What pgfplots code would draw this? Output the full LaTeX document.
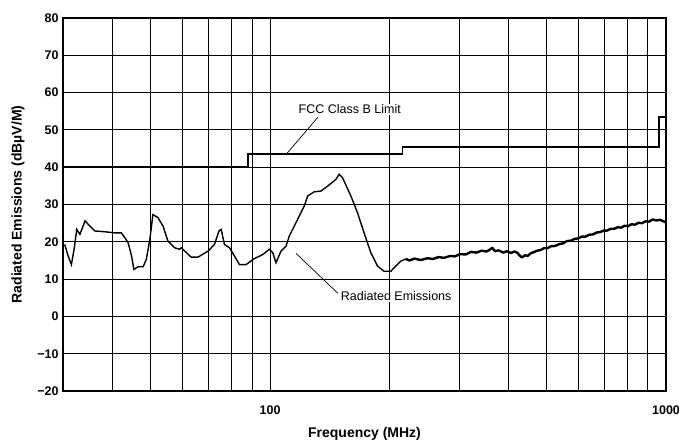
\documentclass[border=0pt]{standalone}
\usepackage{pgfplots}
\pgfplotsset{compat=1.18}
\usepackage{fontspec}
\setmainfont{Liberation Sans}
\begin{document}
\begin{tikzpicture}
\begin{axis}[
  name=ax,
  scale only axis,
  width=603pt, height=373pt,
  xmode=log,
  xmin=30, xmax=1000,
  ymin=-20, ymax=80,
  ytick={-20,-10,0,10,20,30,40,50,60,70,80},
  yticklabels={−20,−10,0,10,20,30,40,50,60,70,80},
  xtick={100,1000},
  xticklabels={100,1000},
  minor xtick={40,50,60,70,80,90,200,300,400,500,600,700,800,900},
  major tick length=0pt, minor tick length=0pt,
  xmajorgrids, xminorgrids, ymajorgrids,
  grid style={black, line width=0.8pt},
  minor grid style={black, line width=0.8pt},
  axis line style={black, line width=1.2pt},
  /pgf/number format/assume math mode=true,
  tick label style={font=\fontsize{12.5}{14}\selectfont\bfseries},
  xticklabel style={yshift=-11pt},
  yticklabel style={xshift=-1pt},
  xlabel={Frequency (MHz)},
  ylabel={Radiated Emissions (dBµV/M)},
  label style={font=\fontsize{14}{16}\selectfont\bfseries},
  xlabel style={at={(axis description cs:0.5,0)}, anchor=center, yshift=-43pt},
  ylabel style={at={(axis description cs:0,0.5)}, anchor=center, yshift=45pt},
  clip=false,
]
% FCC Class B limit
\addplot[black, line width=1.9pt, const plot] coordinates {
  (30,40) (88,43.5) (216,45.5) (960,53.5) (1000,53.5)
};
% Radiated emissions, low band
\addplot[black, line width=1.4pt] coordinates {
  (30.3,19.3) (30.9,16.2) (31.5,13.9) (32.0,18.0) (32.5,23.3) (33.1,22.0)
  (34.1,25.6) (35.1,24.2) (36.1,22.9) (38.2,22.7) (40.5,22.4) (42.1,22.4)
  (43.0,21.1) (43.8,19.8) (44.7,16.2) (45.3,12.6) (46.4,13.3) (47.8,13.3)
  (48.7,15.3) (49.7,20.6) (50.6,27.3) (52.1,26.5) (53.7,24.2) (55.2,20.2)
  (57.4,18.4) (59.1,18.0) (59.7,18.4) (63.2,15.9) (65.8,15.9) (69.7,17.5)
  (72.4,19.3) (74.3,22.9) (75.3,23.3) (76.7,19.3) (79.0,18.4) (81.3,16.2)
  (83.7,13.9) (87.0,13.9) (91.3,15.5) (95.9,16.6) (99.6,18.0) (101.6,17.1)
  (103.5,14.4) (106.6,17.5) (109.7,18.8) (111.8,21.5) (122.0,29.6)
  (124.5,32.3) (129.3,33.4) (134.4,33.6) (139.7,34.9) (146.6,36.7)
  (149.5,38.1) (152.4,37.2) (160.0,32.3) (166.3,27.8) (172.8,22.4)
  (179.7,17.1) (186.8,13.5) (194.1,12.1) (201.8,12.1) (207.7,13.5)
  (213.8,14.8) (220,15.4)
};
% Radiated emissions, high band (noisy)
\addplot[black, line width=2.4pt, line join=round] coordinates {
  (220,15.4) (225,15.0) (232,15.5) (240,15.1) (250,15.6) (258,15.4) (266,15.9)
  (275,15.7) (285,16.2) (293,16.1) (302,16.7) (312,16.6) (322,17.3) (332,17.1)
  (342,17.6) (352,17.4) (358,17.8) (364,18.4) (370,17.5) (378,17.7) (388,17.1)
  (397,17.5) (406,17.0) (414,17.4) (421,17.1) (427,16.3) (433,15.8) (440,16.4)
  (447,16.2) (455,16.9) (463,17.2) (472,17.6) (482,17.8) (492,18.3) (502,18.3)
  (512,18.8) (525,18.9) (538,19.4) (550,19.6) (562,20.2) (575,20.3) (588,20.8)
  (600,20.9) (613,21.4) (626,21.4) (640,21.9) (655,22.0) (668,22.5) (682,22.6)
  (696,23.0) (710,23.0) (725,23.5) (740,23.5) (755,23.9) (770,23.8) (786,24.3)
  (802,24.2) (818,24.7) (835,24.6) (852,25.1) (870,25.0) (888,25.5) (906,25.4)
  (925,26.0) (945,25.7) (965,25.9) (985,25.5) (1000,25.2)
};
% annotations
\draw[black, line width=0.7pt] (axis cs:109.7,43.4) -- (axis cs:132.1,53.4);
\node[font=\fontsize{12.5}{14}\selectfont, fill=white, inner sep=1pt] at (axis cs:159,55.5) {FCC Class B Limit};
\draw[black, line width=0.7pt] (axis cs:116.3,16.9) -- (axis cs:148.3,6.2);
\node[font=\fontsize{12.5}{14}\selectfont, fill=white, inner sep=1pt, anchor=west] at (axis cs:150,5.4) {Radiated Emissions};
\end{axis}
\pgfresetboundingbox
\path[use as bounding box] ([shift={(-63pt,-54pt)}]ax.south west) rectangle ([shift={(13pt,18pt)}]ax.north east);
\end{tikzpicture}
\end{document}
